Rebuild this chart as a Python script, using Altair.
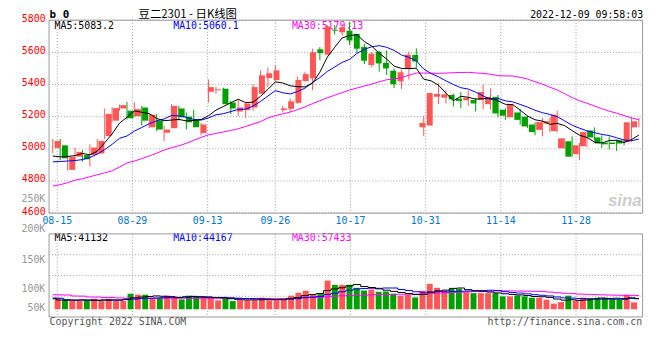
import altair as alt
import pandas as pd

# ---------------- data ----------------
dates = ["08-12", "08-15", "08-16", "08-17", "08-18", "08-19", "08-22", "08-23", "08-24", "08-25",
         "08-26", "08-29", "08-30", "08-31", "09-01", "09-02", "09-05", "09-06", "09-07", "09-08",
         "09-09", "09-13", "09-14", "09-15", "09-16", "09-19", "09-20", "09-21", "09-22", "09-23",
         "09-26", "09-27", "09-28", "09-29", "09-30", "10-10", "10-11", "10-12", "10-13", "10-14",
         "10-17", "10-18", "10-19", "10-20", "10-21", "10-24", "10-25", "10-26", "10-27", "10-28",
         "10-31", "11-01", "11-02", "11-03", "11-04", "11-07", "11-08", "11-09", "11-10", "11-11",
         "11-14", "11-15", "11-16", "11-17", "11-18", "11-21", "11-22", "11-23", "11-24", "11-25",
         "11-28", "11-29", "11-30", "12-01", "12-02", "12-05", "12-06", "12-07", "12-08", "12-09"]

opens = [5006, 5022, 4869, 4951, 4961, 4961, 4971, 5079, 5175, 5251,
         5237, 5203, 5257, 5134, 5175, 5100, 5128, 5251, 5200, 5180,
         5098, 5355, 5364, 5374, 5288, 5232, 5241, 5257, 5343, 5440,
         5427, 5241, 5249, 5286, 5422, 5439, 5619, 5586, 5741, 5725,
         5735, 5715, 5633, 5521, 5603, 5535, 5486, 5419, 5502, 5584,
         5134, 5145, 5324, 5318, 5335, 5312, 5302, 5304, 5304, 5278,
         5323, 5243, 5196, 5226, 5200, 5151, 5118, 5157, 5110, 5004,
         5047, 4967, 5016, 5114, 5071, 5039, 5039, 5053, 5042, 5134]

highs = [5061, 5061, 4965, 5006, 4992, 5028, 5061, 5251, 5260, 5275,
         5292, 5290, 5267, 5216, 5216, 5145, 5278, 5267, 5226, 5243,
         5160, 5431, 5384, 5380, 5298, 5308, 5288, 5400, 5486, 5506,
         5520, 5267, 5312, 5450, 5480, 5623, 5633, 5770, 5770, 5776,
         5790, 5715, 5654, 5603, 5609, 5613, 5500, 5494, 5605, 5625,
         5206, 5347, 5410, 5364, 5343, 5353, 5364, 5318, 5400, 5376,
         5335, 5253, 5280, 5247, 5206, 5165, 5192, 5194, 5237, 5067,
         5077, 5038, 5110, 5133, 5084, 5077, 5057, 5057, 5194, 5192]

lows = [4975, 4930, 4865, 4920, 4920, 4889, 4965, 5059, 5170, 5237,
        5182, 5200, 5145, 5130, 5110, 5049, 5128, 5175, 5120, 5134,
        5084, 5288, 5343, 5278, 5217, 5206, 5192, 5237, 5343, 5385,
        5420, 5226, 5230, 5280, 5418, 5364, 5551, 5586, 5711, 5704,
        5647, 5597, 5527, 5507, 5480, 5459, 5378, 5372, 5431, 5505,
        5079, 5145, 5278, 5282, 5263, 5253, 5267, 5232, 5247, 5243,
        5196, 5180, 5196, 5150, 5128, 5084, 5077, 5104, 5104, 5000,
        4951, 4930, 5010, 5053, 5006, 4996, 4987, 5022, 5042, 5134]

closes = [5049, 4941, 4950, 4981, 4935, 5008, 5049, 5217, 5253, 5272,
          5190, 5247, 5175, 5212, 5120, 5120, 5267, 5196, 5165, 5134,
          5151, 5384, 5370, 5278, 5251, 5257, 5282, 5384, 5457, 5470,
          5488, 5251, 5295, 5428, 5465, 5601, 5595, 5762, 5735, 5756,
          5674, 5623, 5548, 5592, 5531, 5500, 5402, 5476, 5586, 5543,
          5161, 5347, 5341, 5339, 5308, 5298, 5318, 5282, 5353, 5323,
          5220, 5206, 5274, 5180, 5139, 5104, 5166, 5172, 5212, 5065,
          4951, 5022, 5104, 5071, 5033, 5028, 5030, 5033, 5165, 5171]

ma5 = [4955, 4950, 4952, 4958, 4971.2, 4963, 4984.6, 5038, 5092.4, 5159.8,
       5196.2, 5235.8, 5227.4, 5219.2, 5188.8, 5174.8, 5178.8, 5183, 5173.6, 5176.4,
       5182.6, 5206, 5240.8, 5263.4, 5286.8, 5308, 5287.6, 5290.4, 5326.2, 5370,
       5416.2, 5410, 5392.2, 5386.4, 5385.4, 5408, 5476.8, 5570.2, 5631.6, 5689.8,
       5704.4, 5710, 5667.2, 5638.6, 5593.6, 5558.8, 5514.6, 5500.2, 5499, 5501.4,
       5433.6, 5422.6, 5395.6, 5346.2, 5299.2, 5326.6, 5320.8, 5309, 5311.8, 5314.8,
       5299.2, 5276.8, 5275.2, 5240.6, 5203.8, 5180.6, 5172.6, 5152.2, 5158.6, 5143.8,
       5113.2, 5084.4, 5070.8, 5042.6, 5036.2, 5051.6, 5053.2, 5039, 5057.8, 5085.4]

ma10 = [4919, 4921, 4924, 4927, 4933, 4946, 4967, 4995, 5028, 5065.5,
        5079.6, 5110.2, 5132.7, 5155.8, 5174.3, 5185.5, 5207.3, 5205.2, 5196.4, 5182.6,
        5178.7, 5192.4, 5211.9, 5218.5, 5231.6, 5245.3, 5246.8, 5265.6, 5294.8, 5328.4,
        5362.1, 5348.8, 5341.3, 5356.3, 5377.7, 5412.1, 5443.4, 5481.2, 5509, 5537.6,
        5556.2, 5593.4, 5618.7, 5635.1, 5641.7, 5631.6, 5612.3, 5583.7, 5568.8, 5547.5,
        5496.2, 5468.6, 5447.9, 5422.6, 5400.3, 5380.1, 5371.7, 5352.3, 5329, 5307,
        5312.9, 5298.8, 5292.1, 5276.2, 5259.3, 5239.9, 5224.7, 5213.7, 5199.6, 5173.8,
        5146.9, 5128.5, 5111.5, 5100.6, 5090, 5082.4, 5068.8, 5054.9, 5050.2, 5060.8]

ma30 = [4768, 4777, 4789, 4805, 4814, 4826, 4839, 4851, 4863, 4887,
        4912, 4924, 4939, 4955, 4973, 4992, 5007, 5019, 5034, 5053,
        5071, 5087, 5096, 5105, 5114, 5125, 5139, 5154, 5169, 5192.2,
        5206.8, 5217.1, 5228.6, 5243.5, 5261.2, 5281, 5299.2, 5317.3, 5333.4, 5349.5,
        5365.7, 5378.2, 5390.6, 5403.3, 5417, 5429.7, 5434.2, 5443.5, 5457.5, 5471.2,
        5471.5, 5470.3, 5469.3, 5471.3, 5473.2, 5474.6, 5475.8, 5472.4, 5468.9, 5464,
        5455.1, 5453.6, 5452.9, 5444.6, 5433.8, 5417.2, 5402.9, 5383.2, 5365.8, 5342.8,
        5318.7, 5298.6, 5283.8, 5266.5, 5249.9, 5234.1, 5221.7, 5207, 5192.9, 5180.5]

volumes = [46200, 39500, 32800, 32800, 35600, 42300, 32800, 42300, 32800, 32800,
           62000, 58100, 58100, 42300, 46200, 54100, 50200, 39500, 54100, 50200,
           50200, 46200, 35600, 46200, 32800, 36700, 36700, 36700, 46200, 35600,
           35600, 42300, 54100, 66000, 73900, 59300, 60400, 114600, 97600, 97600,
           97600, 85700, 75100, 79000, 69900, 71100, 62000, 54100, 59300, 47400,
           73900, 101500, 85700, 73900, 81800, 81800, 68300, 64400, 64400, 64400,
           64400, 51400, 51400, 55300, 51400, 46200, 46200, 38300, 22500, 28800,
           54100, 34400, 46200, 42300, 46200, 46200, 39500, 38300, 58100, 27700]

vma5 = [42000, 37000, 36000, 36000, 37400, 36600, 35300, 37200, 37200, 36600,
        40500, 45600, 48800, 50700, 53300, 51800, 50200, 46500, 48800, 49600,
        48800, 48000, 47300, 45700, 42200, 39500, 37600, 37800, 37800, 38400,
        38200, 39300, 42800, 46700, 54400, 59100, 62700, 74800, 81200, 85900,
        93600, 98600, 90700, 87000, 81500, 76200, 71400, 67200, 63300, 58800,
        59300, 67200, 73600, 76500, 83400, 84900, 78300, 74000, 72100, 68700,
        65200, 61800, 59200, 57400, 54800, 51100, 50100, 47500, 40900, 36400,
        38000, 35600, 37200, 41200, 44600, 43100, 44100, 42500, 45700, 42000]

vma10 = [45000, 44000, 38000, 37000, 36500, 36500, 36500, 36500, 36500, 37000,
         38600, 40400, 43000, 43900, 45000, 46200, 47900, 47600, 49700, 51500,
         50300, 49100, 46900, 47300, 45900, 44200, 42800, 42500, 41800, 40300,
         38800, 38400, 40300, 42300, 46400, 48600, 51000, 58800, 63900, 70100,
         76300, 80700, 82800, 84100, 83700, 84900, 85000, 79000, 75100, 70100,
         67800, 69300, 70400, 69900, 71100, 72100, 72800, 73800, 74300, 76000,
         75100, 70100, 66600, 64800, 61700, 58200, 56000, 53300, 49200, 45600,
         44600, 42900, 42300, 41000, 40500, 40500, 39900, 39900, 43400, 43300]

vma30 = [58000, 57500, 57000, 53000, 52500, 49000, 48800, 47000, 46800, 45000,
         44500, 44200, 44000, 44000, 43900, 44100, 44200, 44300, 44200, 44000,
         44100, 44200, 43800, 43600, 43500, 43400, 43300, 43100, 43000, 42900,
         42600, 42700, 43400, 44500, 45800, 46300, 47200, 49700, 51800, 54000,
         55200, 56100, 56600, 57900, 58700, 59200, 59600, 60100, 60300, 60200,
         61000, 62800, 64500, 65400, 67000, 68500, 69600, 70500, 71100, 72100,
         73100, 73400, 73300, 72900, 72200, 71700, 71200, 68700, 66200, 63900,
         62500, 60700, 59800, 58600, 57800, 56900, 56200, 55700, 55600, 55000]

label_dates = ["08-15", "08-29", "09-13", "09-26", "10-17", "10-31", "11-14", "11-28"]
price_ticks = [4600, 4800, 5000, 5200, 5400, 5600, 5800]
vol_tick_labels = ["250K", "200K", "150K", "100K", "50K"]

title_text = "豆二2301 - 日K线图"
code_text = "b 0"
stamp_text = "2022-12-09 09:58:03"
ma_texts = ["MA5:5083.2", "MA10:5060.1", "MA30:5179.13"]
vma_texts = ["MA5:41132", "MA10:44167", "MA30:57433"]
copyright_text = "Copyright 2022 SINA.COM"
url_text = "http://finance.sina.com.cn"
logo_text = "sina"

# ---------------- styling / layout ----------------
MONO = "DejaVu Sans Mono"
CJK = "Noto Sans CJK SC"
RED = "#ff5555"
GREEN = "#00a000"
GRID = "#a0a0a0"
BORDER = "#999999"
LABEL_RED = "#ff0000"
LABEL_BLUE = "#0077cc"
VOL_LABEL = "#999999"
FOOT = "#555555"
MA_COLORS = ["#000000", "#0000ff", "#ff00ff"]

n = len(dates)
df = pd.DataFrame({
    "i": list(range(n)), "date": dates,
    "open": opens, "high": highs, "low": lows, "close": closes,
    "vol": volumes, "ma5": ma5, "ma10": ma10, "ma30": ma30,
    "vma5": vma5, "vma10": vma10, "vma30": vma30,
})
df["dir"] = ["up" if c >= o else "down" for o, c in zip(opens, closes)]

grid_df = pd.DataFrame({"label": label_dates, "gi": [dates.index(d) for d in label_dates]})

# candle slots fill the plot; Sina's date grid uses a slightly wider step (7.6px)
X_C = alt.Scale(domain=[-0.5, n - 0.5], nice=False, zero=False)
X_G = alt.Scale(domain=[-0.7 / 7.6, 599.3 / 7.6], nice=False, zero=False)
Y_P = alt.Scale(domain=[4600, 5800], range=[195, 0], nice=False, zero=False)
Y_V = alt.Scale(domain=[0, 300000], range=[292.2, 216.25], nice=False, zero=False)
Y_G = alt.Scale(domain=[0, 4], range=[300, 216], nice=False, zero=False)
VOL_TICK_POS = [5.67, 4.23, 2.75, 1.36, 0.41]

COLOR = alt.Color("dir:N", scale=alt.Scale(domain=["up", "down"], range=[RED, GREEN]), legend=None)


def txt(s, x, y, color="#000000", align="left", size=10, font=MONO, weight="normal",
        baseline="alphabetic", style="normal"):
    return alt.Chart(pd.DataFrame({"t": [s]})).mark_text(
        align=align, baseline=baseline, font=font, fontSize=size,
        fontWeight=weight, fontStyle=style, color=color
    ).encode(x=alt.value(x), y=alt.value(y), text="t:N")


layers = []

# grids
layers.append(alt.Chart(grid_df).mark_rule(strokeDash=[1, 2], color=GRID).encode(
    x=alt.X("gi:Q", scale=X_G, axis=None),
    y=alt.Y(datum=5800, scale=Y_P, axis=None), y2=alt.Y2(datum=4600)))
layers.append(alt.Chart(pd.DataFrame({"p": price_ticks})).mark_rule(strokeDash=[1, 2], color=GRID).encode(
    y=alt.Y("p:Q", scale=Y_P, axis=alt.Axis(
        values=price_ticks, format="d", orient="left", title=None, grid=False, domain=False,
        ticks=False, tickSize=0, labelColor=LABEL_RED, labelFont=MONO, labelFontSize=10,
        labelPadding=4, labelOffset=-2, labelBaseline="middle")),
    x=alt.X(datum=-0.5, scale=X_C, axis=None), x2=alt.X2(datum=n - 0.5)))
layers.append(alt.Chart(grid_df).mark_rule(strokeDash=[1, 2], color=GRID).encode(
    x=alt.X("gi:Q", scale=X_G, axis=None),
    y=alt.Y(datum=4, scale=Y_G, axis=None), y2=alt.Y2(datum=0)))
layers.append(alt.Chart(pd.DataFrame({"g": [1, 2, 3]})).mark_rule(strokeDash=[1, 2], color=GRID).encode(
    y=alt.Y("g:Q", scale=Y_G, axis=None),
    x=alt.X(datum=-0.5, scale=X_C, axis=None), x2=alt.X2(datum=n - 0.5)))

# watermark
layers.append(txt(logo_text, 599, 188, color="#cccccc", align="right", size=17,
                  font="Liberation Sans", weight="bold", style="italic"))

# MA legends
for t, x, c in zip(ma_texts, [5.5, 125.5, 245.5], MA_COLORS):
    layers.append(txt(t, x, 8.4, color=c))
for t, x, c in zip(vma_texts, [5.5, 125.5, 245.5], MA_COLORS):
    layers.append(txt(t, x, 223.2, color=c))

base = alt.Chart(df)
# candles
layers.append(base.mark_rule(strokeWidth=1).encode(
    x=alt.X("i:Q", scale=X_C, axis=None),
    y=alt.Y("low:Q", scale=Y_P, axis=None), y2="high:Q", color=COLOR))
layers.append(base.mark_bar(size=6).encode(
    x=alt.X("i:Q", scale=X_C, axis=None),
    y=alt.Y("open:Q", scale=Y_P, axis=None), y2="close:Q", color=COLOR))
for f, c in zip(["ma30", "ma10", "ma5"], MA_COLORS[::-1]):
    layers.append(base.mark_line(strokeWidth=1, color=c).encode(
        x=alt.X("i:Q", scale=X_C, axis=None),
        y=alt.Y(f + ":Q", scale=Y_P, axis=None)))

# volume
layers.append(base.mark_bar(size=6).encode(
    x=alt.X("i:Q", scale=X_C, axis=None),
    y=alt.Y("vol:Q", scale=Y_V, axis=None), y2=alt.Y2(datum=0), color=COLOR))
for f, c in zip(["vma30", "vma10", "vma5"], MA_COLORS[::-1]):
    layers.append(base.mark_line(strokeWidth=1, color=c, interpolate="step").encode(
        x=alt.X("i:Q", scale=X_C, axis=None),
        y=alt.Y(f + ":Q", scale=Y_V, axis=None)))

# borders
layers.append(alt.Chart(pd.DataFrame({"k": [0]})).mark_rect(fillOpacity=0, stroke=BORDER, strokeWidth=1).encode(
    x=alt.X(datum=-0.5, scale=X_C, axis=None), x2=alt.X2(datum=n - 0.5),
    y=alt.Y(datum=4600, scale=Y_P, axis=None), y2=alt.Y2(datum=5800)))
layers.append(alt.Chart(pd.DataFrame({"k": [0]})).mark_rect(fillOpacity=0, stroke=BORDER, strokeWidth=1).encode(
    x=alt.X(datum=-0.5, scale=X_C, axis=None), x2=alt.X2(datum=n - 0.5),
    y=alt.Y(datum=0, scale=Y_G, axis=None), y2=alt.Y2(datum=4)))

# date labels
layers.append(alt.Chart(grid_df).mark_text(font=MONO, fontSize=10, color=LABEL_BLUE, baseline="alphabetic").encode(
    x=alt.X("gi:Q", scale=X_G, axis=None), y=alt.value(206.5), text="label:N"))

# volume labels
layers.append(alt.Chart(pd.DataFrame({"t": vol_tick_labels, "g": VOL_TICK_POS})).mark_text(
    align="right", baseline="middle", font=MONO, fontSize=10, color=VOL_LABEL).encode(
    x=alt.value(-3.8), y=alt.Y("g:Q", scale=Y_G, axis=None), text="t:N"))

# header / footer
layers.append(txt(code_text, 0.5, -2.5, weight="bold", size=11))
layers.append(txt(title_text, 90.5, -2, font=CJK, size=11.5))
layers.append(txt(stamp_text, 600.5, -2.5, align="right"))
layers.append(txt(copyright_text, 0.5, 308, color=FOOT))
layers.append(txt(url_text, 599.5, 308, color=FOOT, align="right"))

chart = alt.layer(*layers).resolve_scale(x="independent", y="independent").properties(
    width=600, height=300,
    autosize=alt.AutoSizeParams(type="none"),
    padding={"left": 41.5, "top": 10.5, "right": 9.5, "bottom": 30},
).configure_view(stroke=None)

chart.save("out.html", embed_options={"renderer": "svg", "actions": False})
